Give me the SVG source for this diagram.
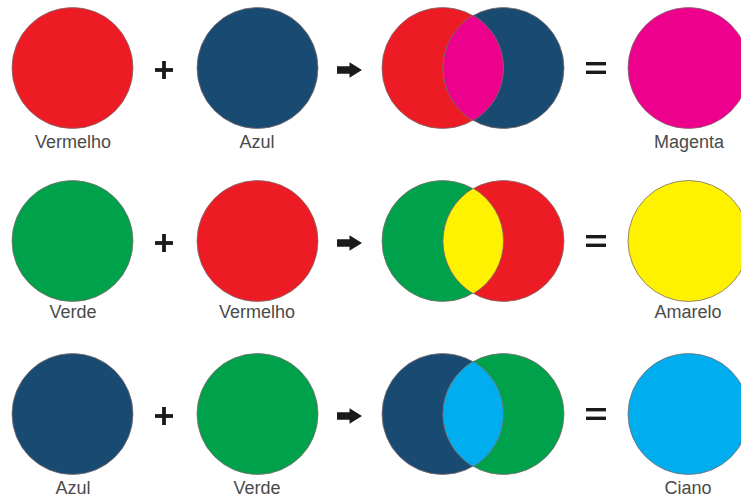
<svg xmlns="http://www.w3.org/2000/svg" width="741" height="499" viewBox="0 0 741 499">
<style>
.c{stroke:#7d6b6b;stroke-width:1;stroke-opacity:0.8}
.red{fill:#ED1C24}.blue{fill:#194A72}.green{fill:#00A14B}
.mag{fill:#EC008C}.yel{fill:#FFF200}.cyan{fill:#00AEEF}
.lbl{font-family:"Liberation Sans",Arial,sans-serif;font-size:18px;fill:#4a4a4a;text-anchor:middle}
.op{fill:#1a1a1a}
</style>
<defs>
<g id="plus"><rect x="-9" y="-1.9" width="18" height="3.8"/><rect x="-1.9" y="-9" width="3.8" height="18"/></g>
<g id="eq"><rect x="-10" y="-6" width="20" height="3.4"/><rect x="-10" y="2.6" width="20" height="3.4"/></g>
<path id="arr" d="M-12.5 -3.8 H0 V-7.8 L12.5 0 L0 7.8 V3.8 H-12.5 Z"/>
<path id="lens" d="M30.75 -52.7 A61 61 0 0 1 30.75 52.7 A61 61 0 0 1 30.75 -52.7 Z"/>
</defs>
<rect width="741" height="499" fill="#fff"/>

<g id="row1">
<g id="vermelho1"><circle class="c red" cx="72.5" cy="68" r="60.5"/><text class="lbl" x="73" y="148">Vermelho</text></g>
<g id="azul1"><circle class="c blue" cx="257.5" cy="68" r="60.5"/><text class="lbl" x="257" y="148">Azul</text></g>
<g id="mix1"><circle class="c red" cx="442.5" cy="68" r="60.5"/><circle class="c blue" cx="503.5" cy="68" r="60.5"/><use href="#lens" x="442.5" y="68" class="c mag"/></g>
<g id="magenta"><circle class="c mag" cx="688.5" cy="68" r="60.5"/><text class="lbl" x="689" y="148">Magenta</text></g>
</g>

<g id="row2">
<g id="verde2"><circle class="c green" cx="72.5" cy="241" r="60.5"/><text class="lbl" x="73" y="318">Verde</text></g>
<g id="vermelho2"><circle class="c red" cx="257.5" cy="241" r="60.5"/><text class="lbl" x="257" y="318">Vermelho</text></g>
<g id="mix2"><circle class="c green" cx="442.5" cy="241" r="60.5"/><circle class="c red" cx="503.5" cy="241" r="60.5"/><use href="#lens" x="442.5" y="241" class="c yel"/></g>
<g id="amarelo"><circle class="c yel" cx="688.5" cy="241" r="60.5"/><text class="lbl" x="688" y="318">Amarelo</text></g>
</g>

<g id="row3">
<g id="azul3"><circle class="c blue" cx="72.5" cy="414" r="60.5"/><text class="lbl" x="73" y="494">Azul</text></g>
<g id="verde3"><circle class="c green" cx="257.5" cy="414" r="60.5"/><text class="lbl" x="257" y="494">Verde</text></g>
<g id="mix3"><circle class="c blue" cx="442.5" cy="414" r="60.5"/><circle class="c green" cx="503.5" cy="414" r="60.5"/><use href="#lens" x="442.5" y="414" class="c cyan"/></g>
<g id="ciano"><circle class="c cyan" cx="688.5" cy="414" r="60.5"/><text class="lbl" x="688" y="494">Ciano</text></g>
</g>

<g id="connectors" class="op">
<use href="#plus" x="164" y="70"/><use href="#arr" x="349.5" y="70"/><use href="#eq" x="596" y="68"/>
<use href="#plus" x="164" y="243"/><use href="#arr" x="349.5" y="243"/><use href="#eq" x="596" y="241"/>
<use href="#plus" x="164" y="416"/><use href="#arr" x="349.5" y="416"/><use href="#eq" x="596" y="414"/>
</g>
</svg>
